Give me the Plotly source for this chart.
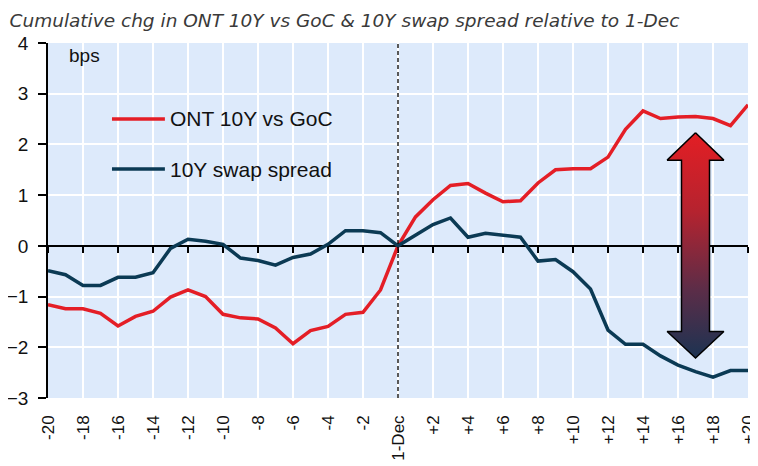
import plotly.graph_objects as go

# Business days relative to 1-Dec
DAYS = [-20, -19, -18, -17, -16, -15, -14, -13, -12, -11, -10, -9, -8, -7, -6, -5, -4, -3, -2, -1, 0,
        1, 2, 3, 4, 5, 6, 7, 8, 9, 10, 11, 12, 13, 14, 15, 16, 17, 18, 19, 20]

ONT_VS_GOC = [-1.16, -1.24, -1.24, -1.33, -1.58, -1.39, -1.29, -1.01, -0.87, -1.00, -1.35,
              -1.42, -1.44, -1.62, -1.93, -1.67, -1.59, -1.35, -1.31, -0.87, 0.00,
              0.57, 0.91, 1.19, 1.23, 1.04, 0.87, 0.89, 1.24, 1.50, 1.52,
              1.52, 1.75, 2.30, 2.66, 2.51, 2.54, 2.55, 2.51, 2.37, 2.78]

SWAP_SPREAD = [-0.49, -0.57, -0.78, -0.78, -0.62, -0.62, -0.53, -0.05, 0.13, 0.09, 0.03,
               -0.24, -0.29, -0.38, -0.23, -0.16, 0.03, 0.30, 0.30, 0.26, 0.00,
               0.22, 0.42, 0.55, 0.17, 0.25, 0.21, 0.17, -0.30, -0.27, -0.51,
               -0.85, -1.66, -1.94, -1.94, -2.17, -2.35, -2.48, -2.59, -2.46, -2.46]

TICK_VALS = [-20, -18, -16, -14, -12, -10, -8, -6, -4, -2, 0, 2, 4, 6, 8, 10, 12, 14, 16, 18, 20]
TICK_TEXT = ["-20", "-18", "-16", "-14", "-12", "-10", "-8", "-6", "-4", "-2", "1-Dec",
             "+2", "+4", "+6", "+8", "+10", "+12", "+14", "+16", "+18", "+20"]

RED = "#E41E26"
NAVY = "#0B3A54"
BG = "#DDEAFB"
FONT = "Liberation Sans, Arial, sans-serif"

# Double-headed divergence arrow (data units)
ARROW_X = 17
ARROW_TOP, ARROW_BOTTOM = 2.23, -2.21
HEAD_BASE = 1.69
SHAFT_HALF, HEAD_HALF = 0.8, 1.62
arrow_x = [ARROW_X, ARROW_X + HEAD_HALF, ARROW_X + SHAFT_HALF, ARROW_X + SHAFT_HALF,
           ARROW_X + HEAD_HALF, ARROW_X, ARROW_X - HEAD_HALF, ARROW_X - SHAFT_HALF,
           ARROW_X - SHAFT_HALF, ARROW_X - HEAD_HALF, ARROW_X]
arrow_y = [ARROW_TOP, HEAD_BASE, HEAD_BASE, -HEAD_BASE, -HEAD_BASE, ARROW_BOTTOM,
           -HEAD_BASE, -HEAD_BASE, HEAD_BASE, HEAD_BASE, ARROW_TOP]

fig = go.Figure()

fig.add_trace(go.Scatter(
    x=DAYS, y=ONT_VS_GOC, name="ONT 10Y vs GoC", mode="lines",
    line=dict(color=RED, width=3.5), showlegend=False,
))
fig.add_trace(go.Scatter(
    x=arrow_x, y=arrow_y, mode="lines", fill="toself",
    line=dict(color="black", width=1.5),
    fillgradient=dict(type="vertical",
                      colorscale=[[0, "#1C3352"], [0.3, "#5B2D48"],
                                  [0.65, "#B5232F"], [1, "#E31E24"]]),
    hoverinfo="skip", showlegend=False,
))
# swap spread sits on the label axis (same range) so that axis gets drawn
fig.add_trace(go.Scatter(
    x=DAYS, y=SWAP_SPREAD, name="10Y swap spread", mode="lines", xaxis="x2",
    line=dict(color=NAVY, width=3.5), showlegend=False,
))

# dashed 1-Dec marker
fig.add_shape(type="line", x0=0, x1=0, xref="x", y0=0, y1=1, yref="y domain",
              line=dict(color="black", width=1.3, dash="4px,3px"), layer="above")

# hand-placed legend inside the plot
legend_items = [("ONT 10Y vs GoC", RED, 0.786), ("10Y swap spread", NAVY, 0.645)]
for label, color, ypos in legend_items:
    fig.add_shape(type="line", xref="paper", yref="paper", x0=0.0914, x1=0.167,
                  y0=ypos, y1=ypos, line=dict(color=color, width=3.5))
    fig.add_annotation(text=label, xref="paper", yref="paper", x=0.172, y=ypos,
                       xanchor="left", yanchor="middle", showarrow=False,
                       font=dict(family=FONT, size=21, color="#111111"))

fig.add_annotation(text="bps", xref="paper", yref="paper", x=0.027, y=0.966,
                   xanchor="left", yanchor="middle", showarrow=False,
                   font=dict(family=FONT, size=19, color="#111111"))

# page body has an 8px margin, so the figure is 8px smaller each way
fig.update_layout(
    width=750, height=458,
    title=dict(text="<i>Cumulative chg in ONT 10Y vs GoC &amp; 10Y swap spread relative to 1-Dec</i>",
               x=0.002, xanchor="left", xref="container",
               y=1 - 6 / 458, yanchor="top", yref="container", pad=dict(t=0, l=0),
               font=dict(family="DejaVu Sans, sans-serif", size=18.5, color="#3a3a3a")),
    paper_bgcolor="white",
    plot_bgcolor=BG,
    margin=dict(l=40, r=10, t=35, b=68, autoexpand=False),
    font=dict(family=FONT, size=17, color="#111111"),
    # axis drawn along the zero line, carrying the tick marks and grid
    xaxis=dict(
        range=[-20, 20], anchor="free", position=3 / 7,
        tickvals=TICK_VALS, showticklabels=False,
        showline=True, linecolor="black", linewidth=1.5,
        ticks="outside", ticklen=6, tickwidth=1.5, tickcolor="black",
        showgrid=True, gridcolor="white", gridwidth=1.5, zeroline=False,
        layer="below traces", automargin=False,
    ),
    # bottom axis carrying the rotated labels
    xaxis2=dict(
        overlaying="x", matches="x", anchor="y", side="bottom",
        tickvals=TICK_VALS, ticktext=TICK_TEXT, tickangle=-90,
        showline=False, showgrid=False, zeroline=False, ticks="",
        ticklabelstandoff=13, tickfont=dict(family=FONT, size=17),
        automargin=False,
    ),
    yaxis=dict(
        range=[-3, 4], dtick=1, showline=True, linecolor="black", linewidth=1.5,
        ticks="outside", ticklen=8, tickwidth=1.5, tickcolor="black",
        showgrid=True, gridcolor="white", gridwidth=1.5, zeroline=False,
        tickfont=dict(family=FONT, size=19), layer="below traces",
        ticklabelstandoff=6, automargin=False,
    ),
)

fig.write_html("out.html")
